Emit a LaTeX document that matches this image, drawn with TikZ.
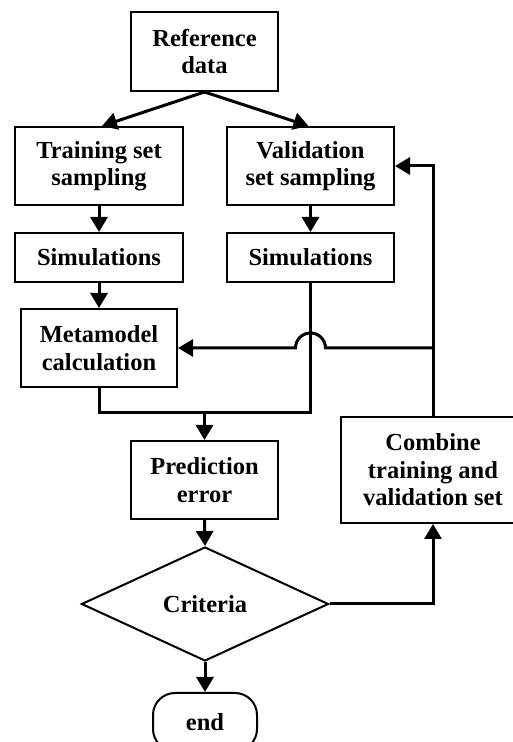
\documentclass[tikz,border=0pt]{standalone}
\usepackage{fontspec}
\setmainfont{Liberation Serif}
\usetikzlibrary{arrows.meta,shapes.geometric,calc}
\begin{document}
\begin{tikzpicture}[x=1pt,y=1pt,
  box/.style={draw, line width=2pt, align=center, inner sep=0pt,
    font=\fontsize{24.5}{27.5}\selectfont\bfseries},
  conn/.style={line width=3pt, -{Triangle[length=15pt,width=17pt]}},
  wire/.style={line width=3pt}]
\useasboundingbox (0,0) rectangle (512,742);
\node[box, minimum width=147pt, minimum height=79pt] (ref) at (204.5,690.5) {Reference\\data};
\node[box, minimum width=168pt, minimum height=78pt] (train) at (99,576) {Training set\\sampling};
\node[box, minimum width=167pt, minimum height=78pt] (valid) at (310.5,576) {Validation\\set sampling};
\node[box, minimum width=168pt, minimum height=49pt] (sima) at (99,484.5) {Simulations};
\node[box, minimum width=167pt, minimum height=49pt] (simb) at (310.5,484.5) {Simulations};
\node[box, minimum width=156pt, minimum height=78pt] (meta) at (99,394) {Metamodel\\calculation};
\node[box, minimum width=147pt, minimum height=78pt] (pred) at (204.5,262) {Prediction\\error};
\node[box, minimum width=184pt, minimum height=106pt] (comb) at (433,272) {Combine\\training and\\validation set};
\node[box, diamond, aspect=2.17, minimum width=247pt, minimum height=114pt] (crit) at (205,138) {Criteria};
\node[box, rounded corners=22pt, minimum width=104pt, minimum height=58pt] (fin) at (205,20) {end};

\coordinate (merge) at (204.5,329);
\coordinate (junc) at (433,394);

\draw[conn] (ref.south) -- ($(train.north)+(3,0)$);
\draw[conn] (ref.south) -- ($(valid.north)+(-2,0)$);
\draw[conn] (train.south) -- (sima.north);
\draw[conn] (valid.south) -- (simb.north);
\draw[conn] (sima.south) -- (meta.north);
\draw[wire] (meta.south) |- (merge);
\draw[wire] (simb.south) |- (merge);
\draw[conn] (merge) -- (pred.north);
\draw[conn] (pred.south) -- (crit.north);
\draw[conn] (crit.south) -- (fin.north);
\draw[conn] (crit.east) -| (comb.south);
\draw[conn] (comb.north) |- (valid.east);
\draw[conn] (junc) -- ($(junc -| simb.south)+(15,0)$) arc[start angle=0, end angle=180, radius=15pt] -- (meta.east);
\end{tikzpicture}
\end{document}
